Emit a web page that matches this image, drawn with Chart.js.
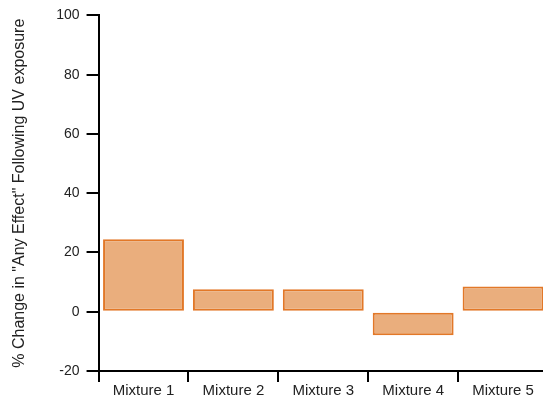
<!DOCTYPE html>
<html lang="en">
<head>
    <meta charset="UTF-8">
    <title>UV exposure chart</title>
    <style>
        html, body {
            margin: 0;
            padding: 0;
            background: #ffffff;
            overflow: hidden;
        }

        .chart-container {
            width: 550px;
            height: 400px;
            position: relative;
        }
    </style>
    <script src="https://cdn.jsdelivr.net/npm/chart.js@4.4.0/dist/chart.umd.min.js"></script>
</head>
<body>
    <div class="chart-container">
        <canvas id="uv-chart"></canvas>
    </div>

    <script>
        // data
        const mixtures = ['Mixture 1', 'Mixture 2', 'Mixture 3', 'Mixture 4', 'Mixture 5'];
        const changeValues = [24.5, 7.6, 7.6, -7.9, 8.5];
        const yTicks = [-20, 0, 20, 40, 60, 80, 100];

        const fillColor = 'rgb(234, 174, 125)';
        const edgeColor = 'rgb(226, 120, 40)';
        const fontFamily = 'Liberation Sans, Arial, sans-serif';

        const ctx = document.getElementById('uv-chart').getContext('2d');
        const chart = new Chart(ctx, {
            type: 'bar',
            data: {
                labels: mixtures,
                datasets: [{
                    label: 'Change',
                    data: changeValues,
                    backgroundColor: fillColor,
                    borderColor: edgeColor,
                    borderWidth: 2,
                    borderSkipped: false,
                    barPercentage: 0.9,
                    categoryPercentage: 1.0
                }]
            },
            options: {
                responsive: true,
                maintainAspectRatio: false,
                animation: false,
                layout: {
                    padding: { top: 5, right: 2, left: 10, bottom: 0 }
                },
                plugins: {
                    legend: { display: false },
                    tooltip: { enabled: false }
                },
                scales: {
                    x: {
                        offset: true,
                        grid: {
                            offset: true,
                            drawOnChartArea: false,
                            color: '#000',
                            lineWidth: 2,
                            tickLength: 11
                        },
                        border: { color: '#000', width: 2 },
                        ticks: {
                            color: '#222',
                            padding: 0,
                            font: { family: fontFamily, size: 15 }
                        }
                    },
                    y: {
                        min: -20,
                        max: 100,
                        afterBuildTicks: function (scale) {
                            scale.ticks = yTicks.map(v => ({ value: v }));
                        },
                        grid: {
                            drawOnChartArea: false,
                            color: '#000',
                            lineWidth: 2,
                            tickLength: 12
                        },
                        border: { color: '#000', width: 2 },
                        ticks: {
                            color: '#222',
                            padding: 7,
                            font: { family: fontFamily, size: 14 }
                        },
                        title: {
                            display: true,
                            text: '% Change in "Any Effect" Following UV exposure',
                            color: '#222',
                            padding: { top: 0, bottom: 20 },
                            font: { family: fontFamily, size: 16 }
                        }
                    }
                }
            }
        });
    </script>
</body>
</html>
